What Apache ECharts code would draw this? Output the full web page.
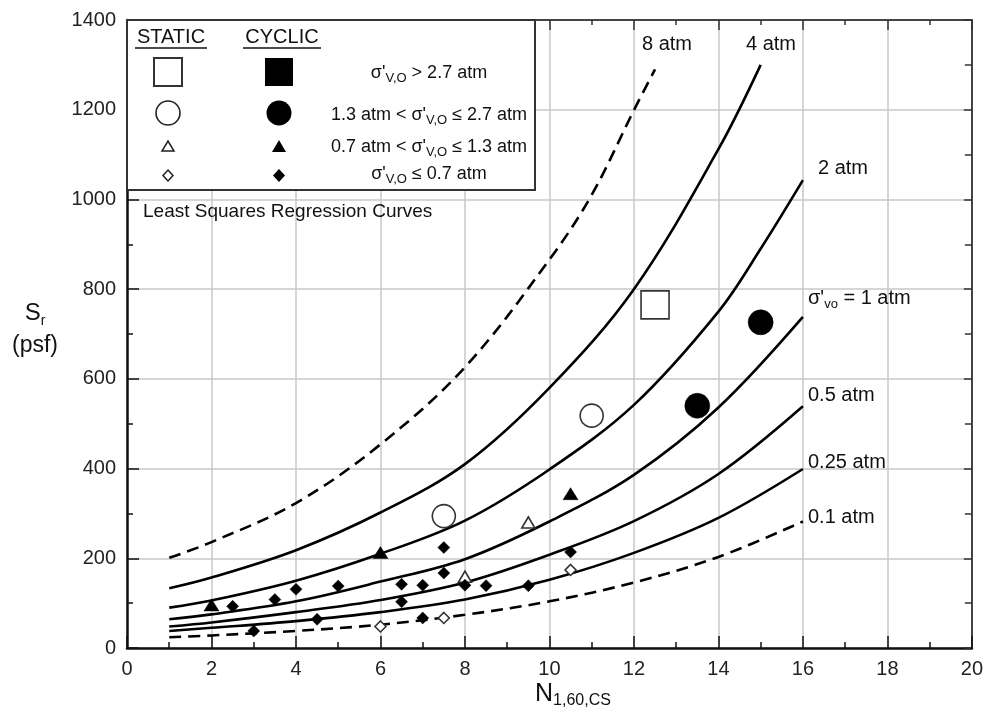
<!DOCTYPE html>
<html><head><meta charset="utf-8">
<script src="https://cdn.jsdelivr.net/npm/echarts@6/dist/echarts.min.js"></script>
<style>html,body{margin:0;padding:0;background:#fff}#c{width:986px;height:720px}</style>
</head><body><div id="c"></div>
<script>
const FONT = "'Liberation Sans', Arial, Helvetica, sans-serif";

// ---- Least squares regression curves (x = N1,60,CS, y = Sr in psf)
const curve8atmX  = [1, 2, 4, 6, 8, 10, 11, 12, 12.5];
const curve8atmY  = [201, 236, 323, 454, 626, 866, 1010, 1199, 1290];
const curve4atmX  = [1, 2, 4, 6, 8, 10, 12, 14, 15];
const curve4atmY  = [133, 157, 218, 302, 410, 580, 800, 1112, 1300];
const curve2atmX  = [1, 2, 4, 6, 8, 10, 12, 14, 15, 16];
const curve2atmY  = [90, 106, 150, 210, 284, 398, 542, 750, 890, 1043];
const curveLowX   = [1, 2, 4, 6, 8, 10, 12, 14, 16];
const curve1atmY  = [64, 75, 104, 148, 198, 282, 386, 536, 738];
const curve05atmY = [48, 57, 80, 107, 146, 208, 283, 388, 539];
const curve025atmY= [38, 45, 60, 80, 108, 152, 212, 290, 399];
const curve01atmY = [24, 28, 38, 52, 74, 104, 146, 203, 282];

// ---- Case history points [N1,60,CS, Sr]
const staticSquare   = [[12.5, 765]];
const staticCircle   = [[7.5, 294], [11, 518]];
const staticTriangle = [[8, 159], [9.5, 280]];
const staticDiamond  = [[6, 48], [7.5, 67], [10.5, 174]];
const cyclicCircle   = [[13.5, 540], [15, 726]];
const cyclicTriangle = [[2, 96], [6, 213], [10.5, 344]];
const cyclicDiamond  = [[2.5, 93], [3, 38], [3.5, 108], [4, 131], [4.5, 64], [5, 138],
                        [6.5, 142], [6.5, 103], [7, 140], [7, 67], [7.5, 224], [7.5, 167],
                        [8, 140], [8.5, 139], [9.5, 139], [10.5, 214]];

// ---- Axes
const xMin = 0, xMax = 20, xStep = 2;
const yMin = 0, yMax = 1400, yStep = 200;

const zip = (xs, ys) => xs.map((x, i) => [x, ys[i]]);

function curve(name, xs, ys, dashed) {
  return {
    name, type: 'line', data: zip(xs, ys), smooth: 0.35, symbol: 'none', z: 3,
    lineStyle: { color: '#000', width: 2.6, type: dashed ? [12, 7] : 'solid' },
    silent: true
  };
}
function pts(name, data, symbol, size, filled) {
  return {
    name, type: 'scatter', data, symbol, symbolSize: size, z: 5,
    itemStyle: filled ? { color: '#000', borderColor: '#000', borderWidth: 0.5, opacity: 1 }
                      : { color: '#fff', borderColor: '#333', borderWidth: 1.6, opacity: 1 }
  };
}

const mainAxisLine = { show: true, onZero: false, lineStyle: { color: '#111', width: 2.5 } };
const mirrorAxisLine = { show: true, onZero: false, lineStyle: { color: '#444', width: 2 } };

const chart = echarts.init(document.getElementById('c'), null, { renderer: 'canvas' });

const subRich = { fontSize: 13, fontFamily: FONT, fill: '#111', verticalAlign: 'bottom', lineHeight: 13 };
function txt(text, x, y, size, align, rich) {
  return {
    type: 'text', x, y, z: 120,
    style: { text, fontSize: size, fontFamily: FONT, fill: '#111', align: align || 'center',
             verticalAlign: 'middle', lineHeight: size + 6, rich: rich || undefined }
  };
}
const sigRich = { n: { fontSize: 18, fontFamily: FONT, fill: '#111', lineHeight: 24 }, s: subRich };

chart.setOption({
  animation: false,
  backgroundColor: '#fff',
  grid: { left: 127, right: 13, top: 20, bottom: 72, containLabel: false },
  xAxis: [
    { type: 'value', min: xMin, max: xMax, interval: xStep, position: 'bottom',
      axisLine: mainAxisLine,
      axisTick: { inside: true, length: 12, lineStyle: { color: '#111', width: 1.5 } },
      minorTick: { show: true, splitNumber: 2, length: 6, lineStyle: { color: '#111', width: 1.5 } },
      splitLine: { show: true, lineStyle: { color: '#c8c8c8', width: 1.5 } },
      axisLabel: { fontSize: 20, fontFamily: FONT, color: '#222', margin: 11 } },
    { type: 'value', min: xMin, max: xMax, interval: xStep, position: 'top',
      axisLine: mirrorAxisLine,
      axisTick: { inside: true, length: 10, lineStyle: { color: '#333', width: 1.5 } },
      minorTick: { show: true, splitNumber: 2, length: 5, lineStyle: { color: '#333', width: 1.5 } },
      splitLine: { show: false }, axisLabel: { show: false } }
  ],
  yAxis: [
    { type: 'value', min: yMin, max: yMax, interval: yStep, position: 'left',
      axisLine: mainAxisLine,
      axisTick: { inside: true, length: 12, lineStyle: { color: '#111', width: 1.5 } },
      minorTick: { show: true, splitNumber: 2, length: 6, lineStyle: { color: '#111', width: 1.5 } },
      splitLine: { show: true, lineStyle: { color: '#c8c8c8', width: 1.5 } },
      axisLabel: { fontSize: 20, fontFamily: FONT, color: '#222', margin: 11,
                   formatter: v => String(v) } },
    { type: 'value', min: yMin, max: yMax, interval: yStep, position: 'right',
      axisLine: mirrorAxisLine,
      axisTick: { inside: true, length: 8, lineStyle: { color: '#333', width: 1.5 } },
      minorTick: { show: true, splitNumber: 2, length: 7, lineStyle: { color: '#333', width: 1.5 } },
      splitLine: { show: false }, axisLabel: { show: false } }
  ],
  series: [
    curve('8 atm', curve8atmX, curve8atmY, true),
    curve('4 atm', curve4atmX, curve4atmY, false),
    curve('2 atm', curve2atmX, curve2atmY, false),
    curve('1 atm', curveLowX, curve1atmY, false),
    curve('0.5 atm', curveLowX, curve05atmY, false),
    curve('0.25 atm', curveLowX, curve025atmY, false),
    curve('0.1 atm', curveLowX, curve01atmY, true),
    pts('Static >2.7', staticSquare, 'rect', 28, false),
    pts('Static 1.3-2.7', staticCircle, 'circle', 23, false),
    pts('Static 0.7-1.3', staticTriangle, 'triangle', [13, 11], false),
    pts('Static <=0.7', staticDiamond, 'diamond', 11, false),
    pts('Cyclic 1.3-2.7', cyclicCircle, 'circle', 25, true),
    pts('Cyclic 0.7-1.3', cyclicTriangle, 'triangle', [15, 12], true),
    pts('Cyclic <=0.7', cyclicDiamond, 'diamond', 12, true)
  ],
  graphic: {
    z: 100,
    elements: [
      // legend box
      { type: 'rect', z: 100, shape: { x: 127, y: 20, width: 408, height: 170 },
        style: { fill: '#fff', stroke: '#333', lineWidth: 2 } },
      txt('STATIC', 171, 37, 20),
      txt('CYCLIC', 282, 37, 20),
      { type: 'line', z: 120, shape: { x1: 135, y1: 48, x2: 207, y2: 48 }, style: { stroke: '#111', lineWidth: 1.5 } },
      { type: 'line', z: 120, shape: { x1: 243, y1: 48, x2: 321, y2: 48 }, style: { stroke: '#111', lineWidth: 1.5 } },
      // legend symbols
      { type: 'rect', z: 120, shape: { x: 154, y: 58, width: 28, height: 28 }, style: { fill: '#fff', stroke: '#333', lineWidth: 2 } },
      { type: 'rect', z: 120, shape: { x: 265, y: 58, width: 28, height: 28 }, style: { fill: '#000' } },
      { type: 'circle', z: 120, shape: { cx: 168, cy: 113, r: 12 }, style: { fill: '#fff', stroke: '#222', lineWidth: 1.6 } },
      { type: 'circle', z: 120, shape: { cx: 279, cy: 113, r: 12.5 }, style: { fill: '#000' } },
      { type: 'polygon', z: 120, shape: { points: [[162, 151], [174, 151], [168, 141]] }, style: { fill: '#fff', stroke: '#222', lineWidth: 1.5 } },
      { type: 'polygon', z: 120, shape: { points: [[272, 152], [286, 152], [279, 140]] }, style: { fill: '#000' } },
      { type: 'polygon', z: 120, shape: { points: [[168, 170], [173, 175.5], [168, 181], [163, 175.5]] }, style: { fill: '#fff', stroke: '#222', lineWidth: 1.5 } },
      { type: 'polygon', z: 120, shape: { points: [[279, 169], [285, 175.5], [279, 182], [273, 175.5]] }, style: { fill: '#000' } },
      // legend labels
      txt("{n|σ'}{s|V,O}{n| > 2.7 atm}", 429, 73, 18, 'center', sigRich),
      txt("{n|1.3 atm < σ'}{s|V,O}{n| ≤ 2.7 atm}", 429, 115, 18, 'center', sigRich),
      txt("{n|0.7 atm < σ'}{s|V,O}{n| ≤ 1.3 atm}", 429, 147, 18, 'center', sigRich),
      txt("{n|σ'}{s|V,O}{n| ≤ 0.7 atm}", 429, 174, 18, 'center', sigRich),
      txt('Least Squares Regression Curves', 143, 212, 19, 'left'),
      // curve labels
      txt('8 atm', 667, 44, 20),
      txt('4 atm', 771, 44, 20),
      txt('2 atm', 818, 168, 20, 'left'),
      txt("{n|σ'}{s|vo}{n| = 1 atm}", 808, 298, 20, 'left',
          { n: { fontSize: 20, fontFamily: FONT, fill: '#111', lineHeight: 26 }, s: subRich }),
      txt('0.5 atm', 808, 395, 20, 'left'),
      txt('0.25 atm', 808, 462, 20, 'left'),
      txt('0.1 atm', 808, 517, 20, 'left'),
      // axis titles
      txt("{n|S}{s|r}", 35, 313, 23, 'center',
          { n: { fontSize: 24, fontFamily: FONT, fill: '#111', lineHeight: 30 },
            s: { fontSize: 14, fontFamily: FONT, fill: '#111', verticalAlign: 'bottom', lineHeight: 16 } }),
      txt('(psf)', 35, 346, 23),
      txt("{n|N}{s|1,60,CS}", 573, 694, 24, 'center',
          { n: { fontSize: 25, fontFamily: FONT, fill: '#111', lineHeight: 30 },
            s: { fontSize: 16, fontFamily: FONT, fill: '#111', verticalAlign: 'bottom', lineHeight: 16 } })
    ]
  }
});
</script>
</body></html>
